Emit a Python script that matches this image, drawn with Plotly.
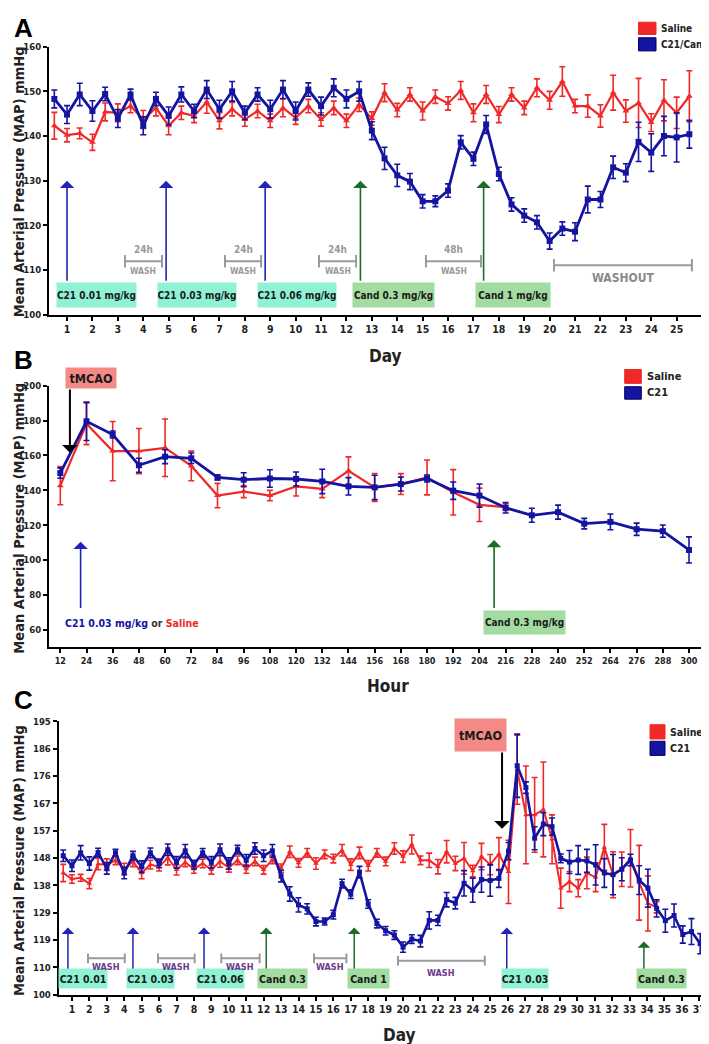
import plotly.graph_objects as go

W, H = 709, 1044
FONT = "DejaVu Sans Condensed, Liberation Sans Narrow, Roboto Condensed, Arial Narrow, Roboto, sans-serif"
FONT_W = "Liberation Sans, Arial, sans-serif"
RED = "#f02828"
BLUE = "#1414a0"
ARROW_BLUE = "#2222b8"
ARROW_GREEN = "#1d6a2a"
C21_BG = "#8ff2d4"
CAND_BG = "#a3dca0"
TMCAO_BG = "#f48a86"
GRAY = "#9a9a9a"
PURPLE = "#6a3a8a"

# ---------------- Panel A data (Day) ----------------
a_days = [0.5, 1, 1.5, 2, 2.5, 3, 3.5, 4, 4.5, 5, 5.5, 6, 6.5, 7, 7.5, 8, 8.5, 9, 9.5, 10,
          10.5, 11, 11.5, 12, 12.5, 13, 13.5, 14, 14.5, 15, 15.5, 16, 16.5, 17, 17.5, 18,
          18.5, 19, 19.5, 20, 20.5, 21, 21.5, 22, 22.5, 23, 23.5, 24, 24.5, 25, 25.5]
a_saline = [142.3, 140.2, 140.6, 138.6, 145.4, 145.2, 146.7, 143.7, 146.3, 142.3, 145.2, 144.5,
            147.6, 143.4, 146.0, 143.7, 145.6, 143.4, 146.3, 144.1, 146.7, 143.7, 146.3, 143.4,
            147.0, 143.9, 149.7, 145.8, 149.3, 145.6, 148.8, 147.3, 150.2, 145.2, 149.3, 144.8,
            149.3, 146.3, 150.8, 148.0, 152.2, 146.7, 146.7, 144.5, 149.7, 145.6, 147.4, 143.0,
            148.0, 145.2, 148.9]
a_saline_err = [3.0, 1.5, 1.2, 1.8, 2.0, 2.0, 1.5, 2.0, 1.8, 2.0, 1.5, 1.5, 2.5, 1.8, 1.5, 1.5,
                1.5, 1.5, 2.0, 1.5, 1.5, 1.5, 1.5, 1.5, 1.5, 1.5, 2.0, 1.5, 1.5, 2.0, 1.5, 1.5,
                2.0, 2.0, 2.0, 1.8, 1.5, 1.5, 2.0, 2.0, 3.3, 1.5, 2.5, 2.5, 3.9, 2.5, 5.5, 2.0,
                4.6, 3.5, 5.7]
a_c21 = [148.3, 144.8, 149.3, 145.6, 149.4, 143.9, 149.3, 142.3, 148.3, 144.5, 149.3, 145.6,
         150.4, 146.0, 150.0, 145.2, 149.3, 146.0, 150.4, 145.6, 150.4, 146.7, 150.8, 148.3,
         150.0, 141.2, 135.0, 131.2, 129.8, 125.4, 125.4, 127.8, 138.6, 134.9, 142.6, 131.5,
         124.7, 122.2, 120.7, 116.5, 119.3, 118.6, 125.8, 125.8, 133.0, 131.8, 138.7, 136.3,
         140.0, 139.7, 140.4]
a_c21_err = [2.0, 2.0, 2.5, 2.3, 1.5, 2.0, 1.2, 2.0, 1.5, 2.0, 1.7, 1.5, 2.0, 2.0, 2.2, 1.5,
             1.5, 2.0, 2.0, 2.0, 1.5, 2.0, 2.0, 2.0, 2.2, 2.0, 2.5, 2.5, 1.8, 1.5, 1.2, 1.5,
             1.5, 1.5, 2.0, 1.5, 1.5, 1.5, 1.5, 1.8, 1.5, 2.0, 3.0, 1.8, 2.5, 2.0, 4.4, 4.2,
             4.4, 5.5, 3.1]
a_xticks = [1, 2, 3, 4, 5, 6, 7, 8, 9, 10, 11, 12, 13, 14, 15, 16, 17, 18, 19, 20, 21, 22, 23, 24, 25]
a_yticks = [100, 110, 120, 130, 140, 150, 160]

# ---------------- Panel B data (Hour) ----------------
b_hours = [12, 24, 36, 48, 60, 72, 84, 96, 108, 120, 132, 144, 156, 168, 180, 192, 204, 216,
           228, 240, 252, 264, 276, 288, 300]
b_saline = [142.7, 178.2, 162.5, 162.5, 164.4, 154.0, 137.0, 139.3, 137.0, 142.3, 140.8, 151.2,
            141.7, 143.6, 147.4, 138.9, 131.7, 130.4]
b_saline_err = [11.0, 12.0, 17.0, 13.0, 16.5, 8.5, 7.0, 3.5, 3.0, 5.5, 5.0, 8.0, 8.0, 6.0, 10.0,
                13.0, 9.6, 2.0]
b_c21 = [149.9, 179.6, 172.0, 154.4, 159.3, 158.4, 147.4, 146.1, 146.8, 146.5, 145.1, 142.3,
         141.7, 143.6, 146.8, 139.8, 137.0, 130.0, 125.7, 127.5, 120.9, 121.9, 117.7, 116.6, 105.8]
b_c21_err = [3.0, 11.0, 2.0, 4.0, 4.0, 3.0, 1.5, 4.0, 5.0, 4.0, 7.0, 5.0, 7.0, 4.0, 2.0, 5.0,
             6.6, 3.0, 4.0, 4.0, 3.0, 4.5, 3.5, 3.5, 7.5]
b_xticks = [12, 24, 36, 48, 60, 72, 84, 96, 108, 120, 132, 144, 156, 168, 180, 192, 204, 216,
            228, 240, 252, 264, 276, 288, 300]
b_yticks = [60, 80, 100, 120, 140, 160, 180, 200]

# ---------------- Panel C data (Day) ----------------
# pre-stroke part is the same series as panel A; post-tMCAO part is panel B (to 288 h)
c_post_days = [26.05, 26.55, 27.05, 27.55, 28.05, 28.55, 29.05, 29.55, 30.05, 30.55, 31.05,
               31.55, 32.05, 32.55, 33.05, 33.55, 34.05, 34.55, 35.05, 35.55, 36.05, 36.55,
               37.05, 37.55]
c_saline_days = a_days + c_post_days[:len(b_saline)]
c_saline = a_saline + b_saline
c_saline_err = a_saline_err + b_saline_err
c_c21_days = a_days + c_post_days
c_c21 = a_c21 + b_c21[:len(c_post_days)]
c_c21_err = a_c21_err + b_c21_err[:len(c_post_days)]
c_xticks = list(range(1, 38))
c_ytickvals = [100, 109.5, 119, 128.5, 138, 147.5, 157, 166.5, 176, 185.5, 195]
c_yticktext = ["100", "110", "119", "129", "138", "148", "157", "167", "176", "186", "195"]


def px_x(px):
    return px / W


def px_y(py):
    return 1 - py / H


fig = go.Figure()


def add_series(x, y, err, color, symbol, xa, ya, lw, msize):
    fig.add_trace(go.Scatter(
        x=x, y=y, mode="lines+markers", xaxis=xa, yaxis=ya,
        line=dict(color=color, width=lw),
        marker=dict(symbol=symbol, size=msize, color=color),
        error_y=dict(type="data", array=err, color=color, thickness=1.6, width=3),
        showlegend=False, cliponaxis=False,
    ))


add_series(a_days, a_saline, a_saline_err, RED, "triangle-up", "x", "y", 2.2, 6)
add_series(a_days, a_c21, a_c21_err, BLUE, "square", "x", "y", 2.8, 6)
add_series(b_hours[:len(b_saline)], b_saline, b_saline_err, RED, "triangle-up", "x2", "y2", 2.2, 6)
add_series(b_hours, b_c21, b_c21_err, BLUE, "square", "x2", "y2", 2.8, 6)
add_series(c_saline_days, c_saline, c_saline_err, RED, "triangle-up", "x3", "y3", 2.0, 5)
add_series(c_c21_days, c_c21, c_c21_err, BLUE, "square", "x3", "y3", 2.6, 5)

tickfont = dict(family=FONT, size=9.5, color="#222", weight="bold")
axis_common = dict(showline=True, linewidth=2, linecolor="black", ticks="outside", ticklen=4,
                   tickwidth=1.5, tickcolor="black", showgrid=False, zeroline=False,
                   tickfont=tickfont)
xtickfont = dict(family=FONT, size=10.5, color="#222", weight="bold")

fig.update_layout(
    width=W, height=H, margin=dict(l=0, r=0, t=0, b=0),
    paper_bgcolor="white", plot_bgcolor="white", showlegend=False,
    xaxis=dict(domain=[px_x(41), px_x(707)], range=[0.29, 26.51], anchor="y",
               tickvals=a_xticks, **{**axis_common, "tickfont": xtickfont}),
    yaxis=dict(domain=[px_y(304), px_y(33)], range=[100, 160], anchor="x",
               tickvals=a_yticks, **axis_common),
    xaxis2=dict(domain=[px_x(41), px_x(707)], range=[6.82, 311.9], anchor="y2",
                tickvals=b_xticks, **{**axis_common, "tickfont": dict(family=FONT, size=9, color="#222", weight="bold")}),
    yaxis2=dict(domain=[px_y(640), px_y(375.7)], range=[50, 200], anchor="x2",
                tickvals=b_yticks, **axis_common),
    xaxis3=dict(domain=[px_x(50.7), px_x(707)], range=[0.24, 37.9], anchor="y3",
                tickvals=c_xticks, **{**axis_common, "tickfont": xtickfont}),
    yaxis3=dict(domain=[px_y(991), px_y(715)], range=[100, 195], anchor="x3",
                tickvals=c_ytickvals, ticktext=c_yticktext, **axis_common),
)

ann = []
shapes = []


def arrow(xr, yr, x, yh, yt, color, width=1.6, size=1.5):
    ann.append(dict(x=x, y=yh, ax=x, ay=yt, xref=xr, yref=yr, axref=xr, ayref=yr, text="",
                    showarrow=True, arrowhead=1, arrowsize=size, arrowwidth=width,
                    arrowcolor=color))


def box(xr, yr, x, y, text, bg, w, h, size=10, color="#1a1a1a"):
    ann.append(dict(x=x, y=y, xref=xr, yref=yr, text=text, showarrow=False, bgcolor=bg,
                    width=w, height=h, borderpad=0, xanchor="center", yanchor="middle",
                    font=dict(family=FONT, size=size, color=color, weight="bold")))


def label(xr, yr, x, y, text, size, color, family=FONT, xanchor="center", angle=0):
    ann.append(dict(x=x, y=y, xref=xr, yref=yr, text=text, showarrow=False,
                    xanchor=xanchor, yanchor="middle", textangle=angle,
                    font=dict(family=family, size=size, color=color, weight="bold")))


def bracket(xr, yr, x1, x2, y, dy, color=GRAY):
    shapes.append(dict(type="path", xref=xr, yref=yr,
                       path=f"M{x1},{y - dy} L{x1},{y + dy} M{x1},{y} L{x2},{y} M{x2},{y - dy} L{x2},{y + dy}",
                       line=dict(color=color, width=2)))


def legend(x0, y0, y1, names, textx, size=11):
    for (ya, yb), col, name in zip([y0, y1], [RED, BLUE], names):
        shapes.append(dict(type="rect", xref="paper", yref="paper",
                           x0=px_x(x0[0]), x1=px_x(x0[1]), y0=px_y(yb), y1=px_y(ya),
                           fillcolor=col, line=dict(color="#000066" if col == BLUE else col, width=1)))
        label("paper", "paper", px_x(textx), px_y((ya + yb) / 2), name, size, "#222", xanchor="left")


# ---- Panel A annotations ----
for d in [1.0, 4.9, 8.8]:
    arrow("x", "y", d, 130, 107.3, ARROW_BLUE)
for d in [12.55, 17.4]:
    arrow("x", "y", d, 130, 107.3, ARROW_GREEN)
box("x", "y", 2.165, 104.5, "C21 0.01 mg/kg", C21_BG, 79, 24)
box("x", "y", 6.115, 104.5, "C21 0.03 mg/kg", C21_BG, 78, 24)
box("x", "y", 10.055, 104.5, "C21 0.06 mg/kg", C21_BG, 78, 24)
box("x", "y", 13.855, 104.5, "Cand 0.3 mg/kg", CAND_BG, 81, 24)
box("x", "y", 18.55, 104.5, "Cand 1 mg/kg", CAND_BG, 74, 24)
for x1, x2, top in [(3.28, 4.74, "24h"), (7.22, 8.64, "24h"), (10.92, 12.38, "24h"), (15.13, 17.3, "48h")]:
    bracket("x", "y", x1, x2, 112, 1.4)
    label("x", "y", (x1 + x2) / 2, 114.6, top, 10, GRAY)
    label("x", "y", (x1 + x2) / 2, 109.8, "WASH", 8.5, GRAY)
bracket("x", "y", 20.17, 25.6, 111.1, 1.4)
label("x", "y", 22.9, 108.2, "WASHOUT", 12, "#8a8a8a")
legend((630.5, 648), (8.3, 20.7), (24, 37.3), ["Saline", "C21/Cand"], 650.5, size=10)
label("paper", "paper", px_x(4), px_y(14), "A", 26, "black", family=FONT_W, xanchor="left")
label("paper", "paper", px_x(377), px_y(346), "Day", 17, "#222")
label("paper", "paper", px_x(11), px_y(170), "Mean Arterial Pressure (MAP) mmHg", 14.5, "#222", angle=-90)

# ---- Panel B annotations ----
box("paper", "paper", px_x(83), px_y(368), "tMCAO", TMCAO_BG, 50, 20, size=12.5)
arrow("x2", "y2", 16.4, 161.6, 198.7, "black", width=2, size=1.3)
arrow("x2", "y2", 21.3, 110.5, 71.7, ARROW_BLUE)
arrow("x2", "y2", 210.7, 111.5, 71.7, ARROW_GREEN)
box("x2", "y2", 224.85, 64.35, "Cand 0.3 mg/kg", CAND_BG, 81, 23, size=10)
label("x2", "y2", 44.8, 64.2,
      f'<span style="color:{BLUE}">C21 0.03 mg/kg</span> or <span style="color:{RED}">Saline</span>',
      10.5, "#333")
legend((616.7, 633.3), (359.3, 373.3), (376.7, 389.3), ["Saline", "C21"], 637)
label("paper", "paper", px_x(4), px_y(350), "B", 26, "black", family=FONT_W, xanchor="left")
label("paper", "paper", px_x(380), px_y(679), "Hour", 17, "#222")
label("paper", "paper", px_x(11), px_y(510), "Mean Arterial Pressure (MAP) mmHg", 14.5, "#222", angle=-90)

# ---- Panel C annotations ----
for d in [0.77, 4.5, 8.58, 25.95]:
    arrow("x3", "y3", d, 123.3, 106.6, ARROW_BLUE, width=1.5, size=1.4)
for d, yh in [(12.15, 123.3), (17.2, 123.3), (33.82, 118.5)]:
    arrow("x3", "y3", d, yh, 106.6, ARROW_GREEN, width=1.5, size=1.4)
box("x3", "y3", 1.66, 105.7, "C21 0.01", C21_BG, 48, 19, size=10.5)
box("x3", "y3", 5.48, 105.7, "C21 0.03", C21_BG, 47, 19, size=10.5)
box("x3", "y3", 9.55, 105.7, "C21 0.06", C21_BG, 47, 19, size=10.5)
box("x3", "y3", 13.085, 105.7, "Cand 0.3", CAND_BG, 49, 19, size=10.5)
box("x3", "y3", 18.01, 105.7, "Cand 1", CAND_BG, 41, 19, size=10.5)
box("x3", "y3", 27.0, 105.7, "C21 0.03", C21_BG, 46, 19, size=10.5)
box("x3", "y3", 34.855, 105.7, "Cand 0.3", CAND_BG, 49, 19, size=10.5)
for x1, x2 in [(1.92, 4.03), (5.94, 8.04), (9.57, 11.77), (14.89, 16.75)]:
    bracket("x3", "y3", x1, x2, 112.6, 1.7)
    label("x3", "y3", (x1 + x2) / 2, 109.6, "WASH", 9, PURPLE)
bracket("x3", "y3", 19.71, 24.69, 111.8, 1.7)
label("x3", "y3", 22.2, 107.4, "WASH", 9, PURPLE)
box("x3", "y3", 24.47, 190.15, "tMCAO", TMCAO_BG, 51, 32, size=12.5)
arrow("x3", "y3", 25.68, 157.7, 184.7, "black", width=2, size=1.3)
legend((642, 657), (718.3, 732.7), (735, 749.3), ["Saline", "C21"], 659.5, size=10.5)
label("paper", "paper", px_x(4), px_y(693), "C", 26, "black", family=FONT_W, xanchor="left")
label("paper", "paper", px_x(391), px_y(1032), "Day", 17, "#222")
label("paper", "paper", px_x(11), px_y(856), "Mean Arterial Pressure (MAP) mmHg", 14.5, "#222", angle=-90)

fig.update_layout(annotations=ann, shapes=shapes)
fig.write_html("out.html")
